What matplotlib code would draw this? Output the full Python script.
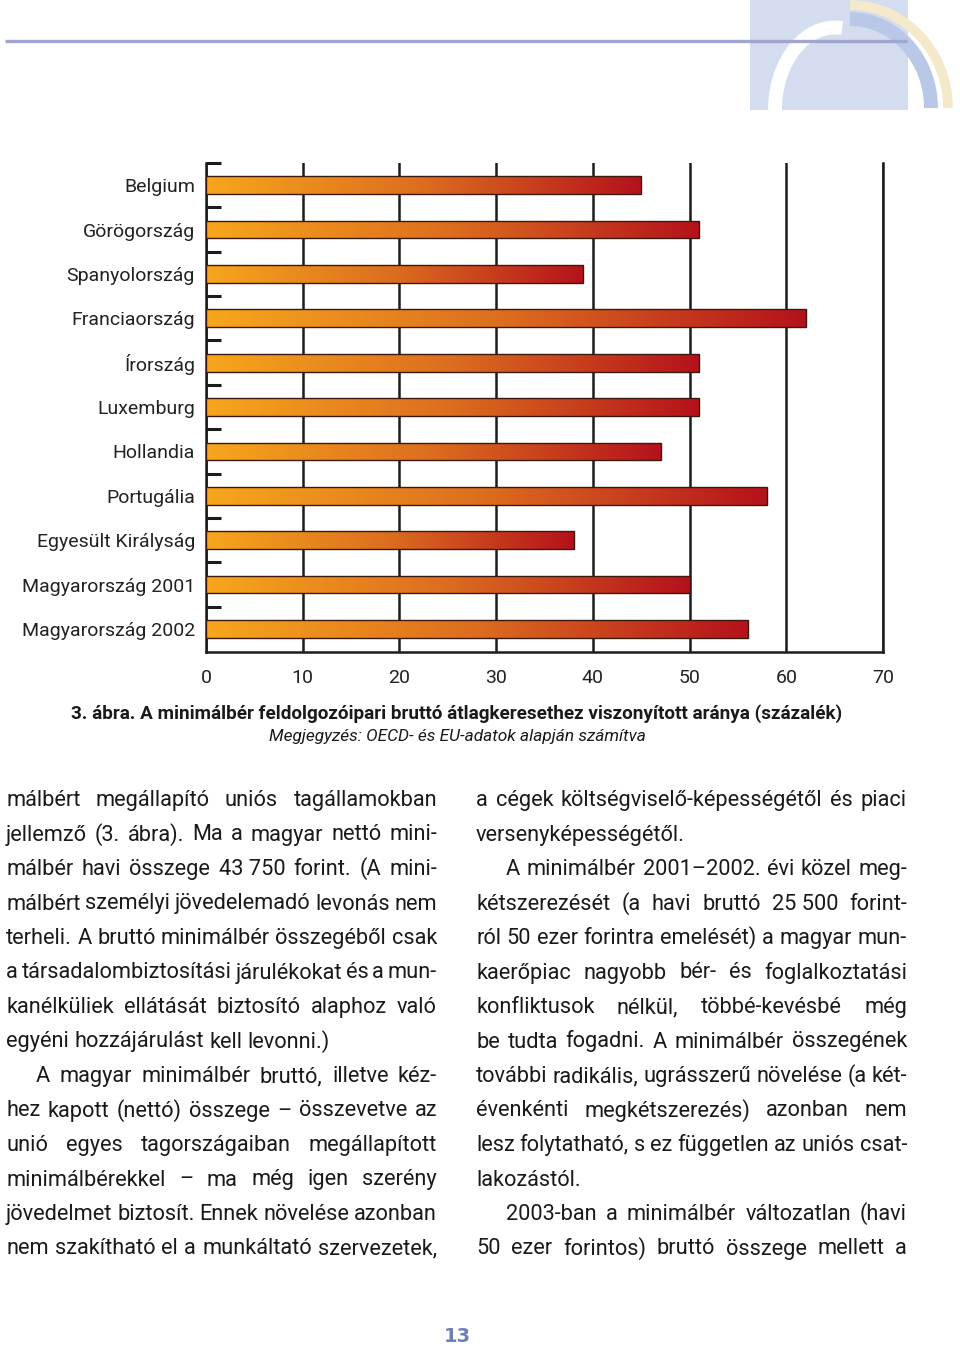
import numpy as np
import matplotlib.pyplot as plt
from matplotlib.colors import LinearSegmentedColormap
from matplotlib.patches import Rectangle, Arc

# ---------------------------------------------- Data
countries = ['Belgium', 'Görögország', 'Spanyolország', 'Franciaország', 'Írország',
             'Luxemburg', 'Hollandia', 'Portugália', 'Egyesült Királyság',
             'Magyarország 2001', 'Magyarország 2002']
ratios = [45, 51, 39, 62, 51, 51, 47, 58, 38, 50, 56]
xticks = [0, 10, 20, 30, 40, 50, 60, 70]

caption = '3. ábra. A minimálbér feldolgozóipari bruttó átlagkeresethez viszonyított aránya (százalék)'
note = 'Megjegyzés: OECD- és EU-adatok alapján számítva'
page_no = '13'

# paragraphs: (indented first line, ends inside column, lines)
left_col = [
    (False, True, [
        'málbért megállapító uniós tagállamokban',
        'jellemző (3. ábra). Ma a magyar nettó mini-',
        'málbér havi összege 43\u00a0750 forint. (A mini-',
        'málbért személyi jövedelemadó levonás nem',
        'terheli. A bruttó minimálbér összegéből csak',
        'a társadalombiztosítási járulékokat és a mun-',
        'kanélküliek ellátását biztosító alaphoz való',
        'egyéni hozzájárulást kell levonni.)',
    ]),
    (True, False, [
        'A magyar minimálbér bruttó, illetve kéz-',
        'hez kapott (nettó) összege – összevetve az',
        'unió egyes tagországaiban megállapított',
        'minimálbérekkel – ma még igen szerény',
        'jövedelmet biztosít. Ennek növelése azonban',
        'nem szakítható el a munkáltató szervezetek,',
    ]),
]
right_col = [
    (False, True, [
        'a cégek költségviselő-képességétől és piaci',
        'versenyképességétől.',
    ]),
    (True, True, [
        'A minimálbér 2001–2002. évi közel meg-',
        'kétszerezését (a havi bruttó 25\u00a0500 forint-',
        'ról 50 ezer forintra emelését) a magyar mun-',
        'kaerőpiac nagyobb bér- és foglalkoztatási',
        'konfliktusok nélkül, többé-kevésbé még',
        'be tudta fogadni. A minimálbér összegének',
        'további radikális, ugrásszerű növelése (a két-',
        'évenkénti megkétszerezés) azonban nem',
        'lesz folytatható, s ez független az uniós csat-',
        'lakozástól.',
    ]),
    (True, False, [
        '2003-ban a minimálbér változatlan (havi',
        '50 ezer forintos) bruttó összege mellett a',
    ]),
]

# ---------------------------------------------- Figure
W, H = 960, 1347
fig = plt.figure(figsize=(W / 100, H / 100), dpi=100, facecolor='white')

# page layer in pixel coordinates
page = fig.add_axes([0, 0, 1, 1], zorder=0)
page.set_xlim(0, W)
page.set_ylim(H, 0)
page.axis('off')

# header logo + rule
page.add_patch(Rectangle((750, 0), 158, 110, color='#d4ddf0', lw=0))
page.add_patch(Arc((850, 108), 196, 206, theta1=270, theta2=360, color='#f4eacb', lw=7))
page.add_patch(Arc((850, 108), 162, 178, theta1=270, theta2=360, color='#b9c8e6', lw=10))
page.add_patch(Arc((835, 110), 120, 165, theta1=180, theta2=275, color='white', lw=10))
page.plot([5, 907], [41, 41], color='#a0a6cf', lw=2.4, solid_capstyle='butt')

# ---------------------------------------------- Chart
ax = fig.add_axes([206 / W, 1 - 652 / H, 677 / W, 489 / H], zorder=1)
ax.patch.set_alpha(0)

cmap = LinearSegmentedColormap.from_list('bar', ['#f7a61c', '#dc6d1f', '#b5121b'])
grad = np.linspace(0, 1, 256).reshape(1, -1)

pos = np.arange(len(countries))
bars = ax.barh(pos, ratios, height=0.4, color='none', edgecolor='#3a1a10',
               linewidth=1.0, zorder=4)
for bar in bars:
    x0, y0 = bar.get_x(), bar.get_y()
    im = ax.imshow(grad, cmap=cmap, aspect='auto', interpolation='bicubic',
                   extent=(x0, x0 + bar.get_width(), y0, y0 + bar.get_height()),
                   zorder=3)
    im.set_clip_path(bar)

ax.set_xlim(0, 70)
ax.set_ylim(10.52, -0.47)
ax.set_aspect('auto')

ax.set_xticks(xticks)
ax.set_xticklabels([str(t) for t in xticks])
ax.grid(axis='x', color='#1c1c1c', lw=1.8, zorder=1)
ax.set_axisbelow(True)

ax.set_yticks(pos)
ax.set_yticklabels(countries)
ax.set_yticks(np.r_[-0.5, pos[:-1] + 0.5], minor=True)

ax.spines['top'].set_visible(False)
for s in ['left', 'bottom', 'right']:
    ax.spines[s].set_linewidth(1.8)
    ax.spines[s].set_color('#1c1c1c')

ax.tick_params(axis='x', length=0, pad=12, labelsize=14, labelcolor='#222222')
ax.tick_params(axis='y', which='major', length=0, pad=8, labelsize=14,
               labelcolor='#222222')
ax.tick_params(axis='y', which='minor', direction='in', length=11, width=2.2,
               color='#1c1c1c')
for lab in ax.get_xticklabels() + ax.get_yticklabels():
    lab.set_family('Roboto')

# caption
page.text(457, 714, caption, ha='center', va='center', fontsize=13.6,
          fontweight='bold', family='Roboto', color='#1a1a1a')
page.text(457, 737, note, ha='center', va='center', fontsize=12.4,
          style='italic', family='Roboto', color='#1a1a1a')

# ---------------------------------------------- Body text
BODY = 15.7
renderer = fig.canvas.get_renderer()


def put_line(text, x0, x1, yb, justify):
    words = text.split(' ')
    arts = [page.text(0, yb, w, fontsize=BODY, family='Roboto', color='#1a1a1a',
                      ha='left', va='baseline') for w in words]
    widths = [a.get_window_extent(renderer).width for a in arts]
    space = BODY * 100 / 72 * 0.25
    if justify and len(words) > 1:
        gap = max((x1 - x0 - sum(widths)) / (len(words) - 1), 2.5)
    else:
        gap = space
    x = x0
    for a, w in zip(arts, widths):
        a.set_x(x)
        x += w + gap


def put_column(col, x0, x1):
    i = 0
    for indent, ends, lines in col:
        for j, line in enumerate(lines):
            xs = x0 + (30 if indent and j == 0 else 0)
            last = ends and j == len(lines) - 1
            put_line(line, xs, x1, 806 + 34.5 * i, not last)
            i += 1


put_column(left_col, 6, 437)
put_column(right_col, 476, 907)

page.text(457, 1336, page_no, ha='center', va='center', fontsize=14,
          fontweight='bold', family='DejaVu Sans', color='#6d80b8')

fig.savefig('out.png', dpi=100, facecolor='white')
